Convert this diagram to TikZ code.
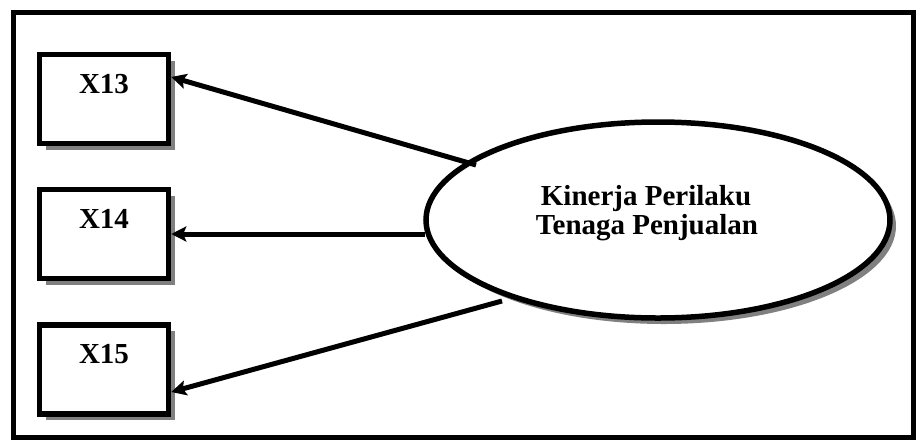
\documentclass[tikz,border=0pt]{standalone}
\usepackage{fontspec}
\setmainfont{Liberation Serif}
\usetikzlibrary{arrows.meta,shadows,shapes.geometric}
\definecolor{shadowgray}{RGB}{128,128,128}
\begin{document}
\begin{tikzpicture}[x=1pt,y=-1pt,
  lblfont/.style={font=\fontsize{29pt}{29pt}\selectfont\bfseries},
  shad/.style={drop shadow={shadow xshift=6pt,shadow yshift=-6pt,fill=shadowgray,opacity=1}},
  box/.style={draw,line width=5.5pt,fill=white,minimum width=129pt,minimum height=89pt,
    inner sep=0pt,text height=38.5pt,text depth=50.5pt,lblfont,shad},
  latent/.style={ellipse,draw,line width=5.5pt,fill=white,minimum width=464pt,
    minimum height=196pt,inner sep=0pt,shad},
  lbl/.style={lblfont,inner sep=0pt,anchor=base},
  arr/.style={line width=5pt,-{Stealth[length=15pt,width=15pt,inset=3pt]}}]
\useasboundingbox (0,0) rectangle (916,440);
\draw[line width=4.5pt] (13.5,12.5) rectangle (913.5,437.5);
\node[box] (X13) at (104,99) {X13};
\node[box] (X14) at (104,234) {X14};
\node[box] (X15) at (104,369.5) {X15};
\node[latent] (el) at (658,220) {};
\node[lbl] (t1) at (646,205) {Kinerja Perilaku};
\node[lbl] (t2) at (647,234) {Tenaga Penjualan};
\coordinate (s13) at (476,165);
\coordinate (s14) at (425,234);
\coordinate (s15) at (502,301);
\draw[arr] (s13) -- ([yshift=22pt]X13.east);
\draw[arr] (s14) -- (X14.east);
\draw[arr] (s15) -- ([yshift=-22.5pt]X15.east);
\end{tikzpicture}
\end{document}
